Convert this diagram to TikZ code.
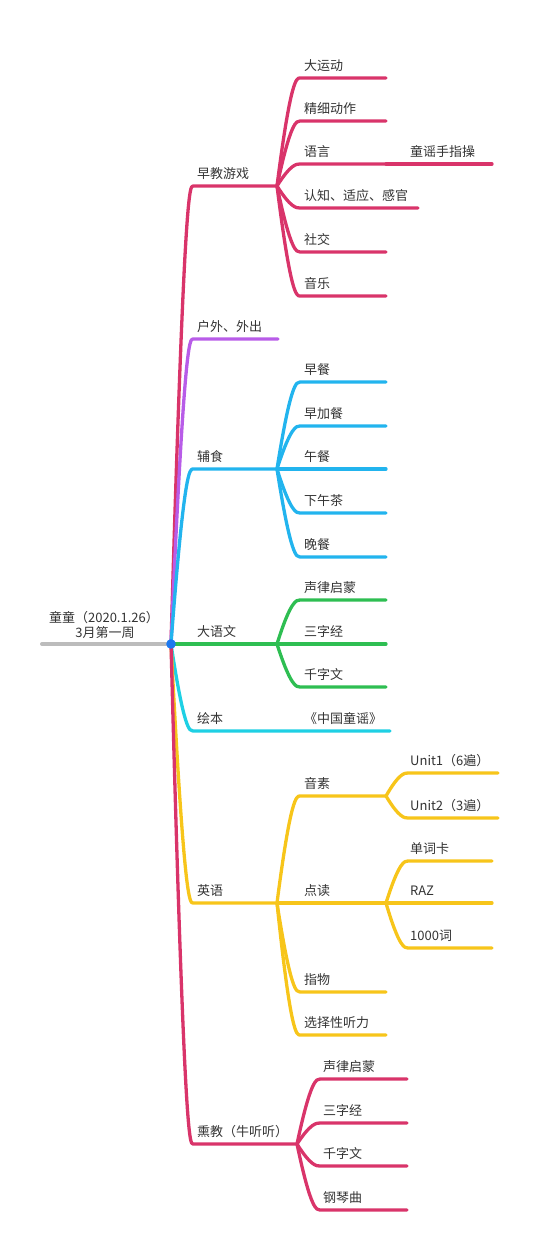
\documentclass[tikz,border=0pt]{standalone}
\usepackage{fontspec}
\setmainfont{Noto Sans CJK SC}
\usetikzlibrary{calc}
\definecolor{pk}{RGB}{217,52,106}
\definecolor{pu}{RGB}{184,92,232}
\definecolor{bl}{RGB}{34,180,238}
\definecolor{gr}{RGB}{46,190,82}
\definecolor{cy}{RGB}{30,208,228}
\definecolor{ye}{RGB}{247,197,26}
\definecolor{gy}{RGB}{188,188,188}
\definecolor{dot}{RGB}{28,120,240}
\definecolor{txt}{RGB}{51,51,51}
\tikzset{
  br/.style={line width=3.3pt, line cap=round, line join=round, draw=#1},
  lbl/.style={anchor=base west, inner sep=0pt, text=txt, font=\fontsize{13}{15}\selectfont},
  rlbl/.style={anchor=base, inner sep=0pt, text=txt, font=\fontsize{13}{15}\selectfont},
  curve/.style={to path={.. controls ($(\tikztostart|-\tikztotarget)!0.6!(\tikztotarget)$) and ($(\tikztostart|-\tikztotarget)!0.85!(\tikztotarget)$) .. (\tikztotarget)}}
}
\begin{document}
\begin{tikzpicture}[x=1pt,y=-1pt]
\useasboundingbox (0,0) rectangle (540,1253);
% root
\coordinate (root) at (171,644);
\coordinate (rs) at (42,644);
\draw[line width=4pt, line cap=round, gy] (rs) -- (root);
\node[rlbl] (rt1) at (104,622) {童童（2020.1.26）};
\node[rlbl] (rt2) at (105,637) {3月第一周};

% ---- A: 早教游戏 (pink)
\coordinate (A0) at (193,186); \coordinate (A) at (277,186);
\draw[br=pk] (root) to[curve] (A0) -- (A);
\node[lbl] (lA) at (197,178.5) {早教游戏};
\foreach \n/\y/\e/\t in {1/78/386/大运动, 2/121/386/精细动作, 3/164/386/语言, 4/208/418/认知、适应、感官, 5/252/386/社交, 6/296/386/音乐}{
  \coordinate (a\n) at (300,\y); \coordinate (a\n e) at (\e,\y);
  \draw[br=pk] (A) to[curve] (a\n) -- (a\n e);
  \node[lbl] (la\n) at (304,\y-7.5) {\t};
}
\coordinate (a31e) at (492,164);
\draw[br=pk] (a3e) -- (a31e);
\node[lbl] (la31) at (410,156.5) {童谣手指操};

% ---- B: 户外、外出 (purple)
\coordinate (B0) at (193,339); \coordinate (B) at (278,339);
\draw[br=pu] (root) to[curve] (B0) -- (B);
\node[lbl] (lB) at (197,331.5) {户外、外出};

% ---- C: 辅食 (blue)
\coordinate (C0) at (193,469); \coordinate (C) at (277,469);
\draw[br=bl] (root) to[curve] (C0) -- (C);
\node[lbl] (lC) at (197,461.5) {辅食};
\foreach \n/\y/\t in {1/382/早餐, 2/426/早加餐, 3/469/午餐, 4/513/下午茶, 5/557/晚餐}{
  \coordinate (c\n) at (300,\y); \coordinate (c\n e) at (386,\y);
  \draw[br=bl] (C) to[curve] (c\n) -- (c\n e);
  \node[lbl] (lc\n) at (304,\y-7.5) {\t};
}

% ---- E: 绘本 (cyan)
\coordinate (E0) at (193,731); \coordinate (E) at (277,731);
\coordinate (e1e) at (390,731);
\draw[br=cy] (root) to[curve] (E0) -- (E) -- (e1e);
\node[lbl] (lE) at (197,723.5) {绘本};
\node[lbl] (le1) at (304,723.5) {《中国童谣》};

% ---- F: 英语 (yellow)
\coordinate (F0) at (193,903); \coordinate (F) at (277,903);
\draw[br=ye] (root) to[curve] (F0) -- (F);
\node[lbl] (lF) at (197,895.5) {英语};
\foreach \n/\y/\t in {1/796/音素, 2/903/点读, 3/992/指物, 4/1035/选择性听力}{
  \coordinate (f\n) at (300,\y); \coordinate (f\n e) at (386,\y);
  \draw[br=ye] (F) to[curve] (f\n) -- (f\n e);
  \node[lbl] (lf\n) at (304,\y-7.5) {\t};
}
\foreach \n/\y/\t in {1/773/Unit1（6遍）, 2/818/Unit2（3遍）}{
  \coordinate (f1\n) at (408,\y); \coordinate (f1\n e) at (498,\y);
  \draw[br=ye] (f1e) to[curve] (f1\n) -- (f1\n e);
  \node[lbl] (lf1\n) at (410,\y-7.5) {\t};
}
\foreach \n/\y/\t in {1/861/单词卡, 2/903/RAZ, 3/948/1000词}{
  \coordinate (f2\n) at (408,\y); \coordinate (f2\n e) at (492,\y);
  \draw[br=ye] (f2e) to[curve] (f2\n) -- (f2\n e);
  \node[lbl] (lf2\n) at (410,\y-7.5) {\t};
}

% ---- G: 熏教 (pink)
\coordinate (G0) at (193,1144); \coordinate (G) at (297,1144);
\draw[br=pk] (root) to[curve] (G0) -- (G);
\node[lbl] (lG) at (197,1136.5) {熏教（牛听听）};
\foreach \n/\y/\t in {1/1079/声律启蒙, 2/1123/三字经, 3/1166/千字文, 4/1210/钢琴曲}{
  \coordinate (g\n) at (320,\y); \coordinate (g\n e) at (407,\y);
  \draw[br=pk] (G) to[curve] (g\n) -- (g\n e);
  \node[lbl] (lg\n) at (323,\y-7.5) {\t};
}

% ---- D: 大语文 (green)
\coordinate (D) at (277,644);
\draw[br=gr] (root) -- (D);
\node[lbl] (lD) at (197,636.5) {大语文};
\foreach \n/\y/\t in {1/600/声律启蒙, 2/644/三字经, 3/687/千字文}{
  \coordinate (d\n) at (300,\y); \coordinate (d\n e) at (386,\y);
  \draw[br=gr] (D) to[curve] (d\n) -- (d\n e);
  \node[lbl] (ld\n) at (304,\y-7.5) {\t};
}

% root dot
\fill[dot] (root) circle (4.8pt);
\end{tikzpicture}
\end{document}
